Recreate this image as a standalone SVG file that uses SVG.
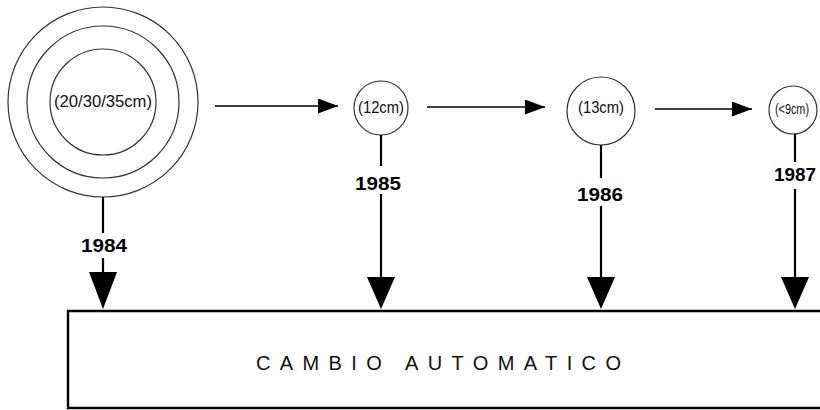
<svg xmlns="http://www.w3.org/2000/svg" width="820" height="410" viewBox="0 0 820 410">
  <style>
    .ring { fill: #fff; stroke: #333; stroke-width: 1.2; }
    .size { font-family: "Liberation Sans", Arial, sans-serif; font-size: 16px; fill: #111; text-anchor: middle; dominant-baseline: central; }
    .year { font-family: "Liberation Sans", Arial, sans-serif; font-size: 18px; font-weight: bold; fill: #000; text-anchor: middle; }
    .stem { stroke: #000; stroke-width: 2.2; fill: none; }
    .flow { stroke: #000; stroke-width: 1.6; fill: none; }
    .title { font-family: "Liberation Sans", Arial, sans-serif; font-size: 20px; fill: #111; }
  </style>
  <defs>
    <marker id="head" viewBox="0 0 20 15" refX="20" refY="7.5" markerWidth="20" markerHeight="15" markerUnits="userSpaceOnUse" orient="auto">
      <path d="M0,0 L20,7.5 L0,15 Z" fill="#000"/>
    </marker>
  </defs>

  <!-- automatic gearbox block -->
  <g id="cambio">
    <path d="M822,311 L68,311 L68,408 L822,408" fill="none" stroke="#000" stroke-width="2.4"/>
    <text class="title" x="256" y="370" textLength="365" lengthAdjust="spacing">CAMBIO  AUTOMATICO</text>
  </g>

  <!-- size nodes -->
  <g id="node-1984">
    <circle class="ring" cx="103" cy="102" r="95"/>
    <circle class="ring" cx="103" cy="102" r="76"/>
    <circle class="ring" cx="103" cy="102" r="53"/>
    <text class="size" x="103" y="101" textLength="98" lengthAdjust="spacingAndGlyphs">(20/30/35cm)</text>
  </g>
  <g id="node-1985">
    <circle class="ring" cx="381" cy="108" r="27"/>
    <text class="size" x="381" y="107" textLength="46" lengthAdjust="spacingAndGlyphs">(12cm)</text>
  </g>
  <g id="node-1986">
    <circle class="ring" cx="601" cy="111" r="34"/>
    <text class="size" x="601" y="107" textLength="46" lengthAdjust="spacingAndGlyphs">(13cm)</text>
  </g>
  <g id="node-1987">
    <circle class="ring" cx="793" cy="110" r="24"/>
    <text class="size" x="792" y="109" style="font-size:14px" textLength="34" lengthAdjust="spacingAndGlyphs">(&lt;9cm)</text>
  </g>

  <!-- year labels -->
  <g id="years">
    <text class="year" x="104" y="252" textLength="46" lengthAdjust="spacingAndGlyphs">1984</text>
    <text class="year" x="378" y="190" textLength="46" lengthAdjust="spacingAndGlyphs">1985</text>
    <text class="year" x="600" y="201" textLength="46" lengthAdjust="spacingAndGlyphs">1986</text>
    <text class="year" x="795" y="181" textLength="42" lengthAdjust="spacingAndGlyphs">1987</text>
  </g>

  <!-- connectors -->
  <g id="connectors">
    <line class="flow" x1="215" y1="106" x2="338" y2="106" marker-end="url(#head)"/>
    <line class="flow" x1="427" y1="107" x2="545" y2="107" marker-end="url(#head)"/>
    <line class="flow" x1="655" y1="109" x2="752" y2="109" marker-end="url(#head)"/>

    <line class="stem" x1="103" y1="197" x2="103" y2="233"/>
    <line class="stem" x1="103" y1="258" x2="103" y2="276"/>
    <path d="M89,272 L117,272 L103,309 Z" fill="#000"/>

    <line class="stem" x1="381" y1="135" x2="381" y2="166"/>
    <line class="stem" x1="381" y1="194" x2="381" y2="280"/>
    <path d="M367,277 L395,277 L381,309 Z" fill="#000"/>

    <line class="stem" x1="601" y1="145" x2="601" y2="178"/>
    <line class="stem" x1="601" y1="206" x2="601" y2="280"/>
    <path d="M587,277 L615,277 L601,309 Z" fill="#000"/>

    <line class="stem" x1="795" y1="134" x2="795" y2="162"/>
    <line class="stem" x1="795" y1="189" x2="795" y2="280"/>
    <path d="M781,277 L809,277 L795,309 Z" fill="#000"/>
  </g>
</svg>
